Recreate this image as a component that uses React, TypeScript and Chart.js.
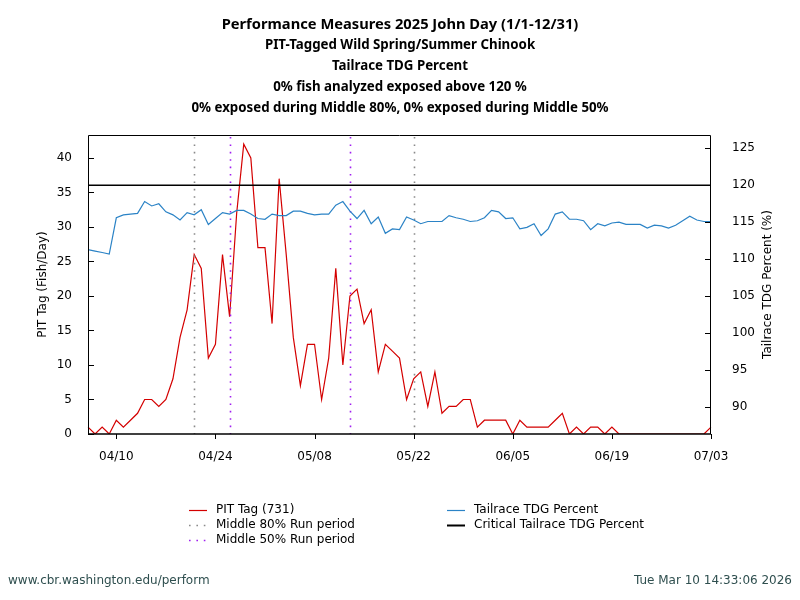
import React, { useEffect, useRef } from "react";
import { Chart, registerables } from "chart.js";

Chart.register(...registerables);

const TITLE_LINES = [
  "Performance Measures 2025 John Day (1/1-12/31)",
  "PIT-Tagged Wild Spring/Summer Chinook",
  "Tailrace TDG Percent",
  "0% fish analyzed exposed above 120 %",
  "0% exposed during Middle 80%, 0% exposed during Middle 50%",
];

const DATES = [
  "04/06", "04/07", "04/08", "04/09", "04/10", "04/11", "04/12", "04/13", "04/14", "04/15",
  "04/16", "04/17", "04/18", "04/19", "04/20", "04/21", "04/22", "04/23", "04/24", "04/25",
  "04/26", "04/27", "04/28", "04/29", "04/30",
  "05/01", "05/02", "05/03", "05/04", "05/05", "05/06", "05/07", "05/08", "05/09", "05/10",
  "05/11", "05/12", "05/13", "05/14", "05/15", "05/16", "05/17", "05/18", "05/19", "05/20",
  "05/21", "05/22", "05/23", "05/24", "05/25", "05/26", "05/27", "05/28", "05/29", "05/30",
  "05/31",
  "06/01", "06/02", "06/03", "06/04", "06/05", "06/06", "06/07", "06/08", "06/09", "06/10",
  "06/11", "06/12", "06/13", "06/14", "06/15", "06/16", "06/17", "06/18", "06/19", "06/20",
  "06/21", "06/22", "06/23", "06/24", "06/25", "06/26", "06/27", "06/28", "06/29", "06/30",
  "07/01", "07/02", "07/03",
];

const PIT_TAG = [
  1, 0, 1, 0, 2, 1, 2, 3, 5, 5, 4, 5, 8, 14, 18,
  26, 24, 11, 13, 26, 17, 32, 42, 40, 27, 27, 16, 37, 26, 14, 7,
  13, 13, 5, 11, 24, 10, 20, 21, 16, 18, 9, 13, 12, 11,
  5, 8, 9, 4, 9, 3, 4, 4, 5, 5, 1, 2, 2, 2, 2,
  0, 2, 1, 1, 1, 1, 2, 3, 0, 1, 0, 1, 1, 0, 1, 0,
  0, 0, 0, 0, 0, 0, 0, 0, 0, 0, 0, 0, 1,
];

const TAILRACE_TDG = [
  111.3, 111.1, 110.9, 110.7, 115.6, 116.0, 116.1, 116.2, 117.8, 117.2, 117.5, 116.4, 116.0,
  115.3, 116.3, 116.0, 116.7, 114.7, 115.5, 116.3, 116.1, 116.6, 116.6,
  116.1, 115.5, 115.4, 116.1, 115.9, 115.9, 116.5, 116.5, 116.2, 116.0, 116.1, 116.1, 117.3,
  117.8, 116.5, 115.5, 116.6, 114.8, 115.7, 113.5, 114.1, 114.0,
  115.7, 115.3, 114.8, 115.1, 115.1, 115.1, 115.9, 115.6, 115.4, 115.1, 115.2, 115.6, 116.6,
  116.4, 115.5, 115.6, 114.1, 114.3, 114.8, 113.2, 114.1,
  116.1, 116.4, 115.4, 115.4, 115.2, 114.0, 114.8, 114.5, 114.9, 115.0, 114.7, 114.7, 114.7,
  114.2, 114.6, 114.5, 114.2, 114.6, 115.2, 115.8, 115.3, 115.1, 115.1,
];

const X_TICK_LABELS = ["04/10", "04/24", "05/08", "05/22", "06/05", "06/19", "07/03"];
const LEFT_TICKS = [0, 5, 10, 15, 20, 25, 30, 35, 40];
const RIGHT_TICKS = [90, 95, 100, 105, 110, 115, 120, 125];
const MIDDLE_80 = ["04/21", "05/22"];
const MIDDLE_50 = ["04/26", "05/13"];
const CRITICAL_TDG = 120;
const PIT_TOTAL = 731;

const LEFT_AXIS_TITLE = "PIT Tag (Fish/Day)";
const RIGHT_AXIS_TITLE = "Tailrace TDG Percent (%)";
const FOOTER_LEFT = "www.cbr.washington.edu/perform";
const FOOTER_RIGHT = "Tue Mar 10 14:33:06 2026";

const RED = "#d40000";
const BLUE = "#2b83c6";
const GRAY = "#8a8a8a";
const PURPLE = "#a020f0";
const FONT = '"DejaVu Sans", "Liberation Sans", sans-serif';
const TITLE_FONT = '"Noto Sans", "Open Sans", sans-serif';

export default function App() {
  const ref = useRef<HTMLCanvasElement>(null);

  useEffect(() => {
    const canvas = ref.current;
    if (!canvas) return;

    const drawDotted = (ctx: CanvasRenderingContext2D, x1: number, y1: number, x2: number, y2: number, color: string) => {
      ctx.save();
      ctx.strokeStyle = color;
      ctx.lineWidth = 1.6;
      ctx.setLineDash([1.6, 5.8]);
      ctx.beginPath();
      ctx.moveTo(x1, y1);
      ctx.lineTo(x2, y2);
      ctx.stroke();
      ctx.restore();
    };

    const overlay = {
      id: "overlay",
      afterDatasetDraw(chart: any, args: any) {
        if (args.index !== 1) return;
        const { ctx, chartArea } = chart;
        const xs = chart.scales.x;
        ctx.save();
        ctx.beginPath();
        ctx.rect(chartArea.left, chartArea.top, chartArea.right - chartArea.left, chartArea.bottom - chartArea.top);
        ctx.clip();
        MIDDLE_80.forEach((d) => {
          const px = Math.round(xs.getPixelForValue(DATES.indexOf(d))) + 0.5;
          drawDotted(ctx, px, chartArea.top + 2, px, chartArea.bottom, GRAY);
        });
        MIDDLE_50.forEach((d) => {
          const px = Math.round(xs.getPixelForValue(DATES.indexOf(d))) + 0.5;
          drawDotted(ctx, px, chartArea.top + 2, px, chartArea.bottom, PURPLE);
        });
        ctx.restore();
      },
      afterDatasetsDraw(chart: any) {
        const { ctx, chartArea } = chart;
        const { left, right, top, bottom } = chartArea;
        const xs = chart.scales.x;
        const ys = chart.scales.y;
        const y2s = chart.scales.y2;
        ctx.save();
        // critical line
        const cy = y2s.getPixelForValue(CRITICAL_TDG);
        ctx.strokeStyle = "#000";
        ctx.lineWidth = 1.6;
        ctx.beginPath();
        ctx.moveTo(left, cy);
        ctx.lineTo(right, cy);
        ctx.stroke();
        // frame
        ctx.lineWidth = 1;
        ctx.beginPath();
        ctx.moveTo(left + 0.5, bottom);
        ctx.lineTo(left + 0.5, top + 0.5);
        ctx.lineTo(right - 0.5, top + 0.5);
        ctx.lineTo(right - 0.5, bottom);
        ctx.stroke();
        ctx.lineWidth = 1.6;
        ctx.beginPath();
        ctx.moveTo(left, bottom);
        ctx.lineTo(right, bottom);
        ctx.stroke();
        // ticks
        ctx.lineWidth = 1;
        ctx.beginPath();
        LEFT_TICKS.forEach((v) => {
          const py = Math.round(ys.getPixelForValue(v)) + 0.5;
          ctx.moveTo(left, py);
          ctx.lineTo(left + 6, py);
        });
        RIGHT_TICKS.forEach((v) => {
          const py = Math.round(y2s.getPixelForValue(v)) + 0.5;
          ctx.moveTo(right, py);
          ctx.lineTo(right - 6, py);
        });
        X_TICK_LABELS.forEach((d) => {
          const px = Math.round(xs.getPixelForValue(DATES.indexOf(d))) + 0.5;
          ctx.moveTo(px, bottom);
          ctx.lineTo(px, bottom + 5);
        });
        ctx.stroke();
        ctx.restore();
      },
      afterDraw(chart: any) {
        const { ctx, chartArea } = chart;
        ctx.save();
        // title
        ctx.fillStyle = "#000";
        ctx.textAlign = "center";
        ctx.textBaseline = "alphabetic";
        const baselines = [29, 49, 70, 91, 112];
        TITLE_LINES.forEach((t, i) => {
          ctx.font = i === 0 ? `bold 14.7px ${TITLE_FONT}` : `bold 13.3px ${TITLE_FONT}`;
          ctx.fillText(t, 400, baselines[i]);
        });

        // right axis title (reads bottom to top)
        ctx.save();
        ctx.font = `12px ${FONT}`;
        ctx.textAlign = "center";
        ctx.textBaseline = "middle";
        ctx.translate(768, (chartArea.top + chartArea.bottom) / 2);
        ctx.rotate(-Math.PI / 2);
        ctx.fillText(RIGHT_AXIS_TITLE, 0, 0);
        ctx.restore();

        // legend
        ctx.font = `12px ${FONT}`;
        ctx.textAlign = "left";
        ctx.textBaseline = "middle";
        const rows = [510, 525, 540];
        const c1 = 189, c2 = 447, sw = 18, tx1 = 216, tx2 = 474;
        const solid = (x: number, y: number, color: string, w: number) => {
          ctx.save();
          ctx.strokeStyle = color;
          ctx.lineWidth = w;
          ctx.beginPath();
          ctx.moveTo(x, y + 0.5);
          ctx.lineTo(x + sw, y + 0.5);
          ctx.stroke();
          ctx.restore();
        };
        solid(c1, rows[0], RED, 1.2);
        ctx.fillStyle = "#000";
        ctx.fillText(`PIT Tag (${PIT_TOTAL})`, tx1, rows[0]);
        drawDotted(ctx, c1, rows[1] + 0.5, c1 + sw + 1, rows[1] + 0.5, GRAY);
        ctx.fillText("Middle 80% Run period", tx1, rows[1]);
        drawDotted(ctx, c1, rows[2] + 0.5, c1 + sw + 1, rows[2] + 0.5, PURPLE);
        ctx.fillText("Middle 50% Run period", tx1, rows[2]);
        solid(c2, rows[0], BLUE, 1.2);
        ctx.fillText("Tailrace TDG Percent", tx2, rows[0]);
        solid(c2, rows[1], "#000", 2);
        ctx.fillText("Critical Tailrace TDG Percent", tx2, rows[1]);

        // footer
        ctx.fillStyle = "#2f4f4f";
        ctx.font = `12px ${FONT}`;
        ctx.textBaseline = "middle";
        ctx.textAlign = "left";
        ctx.fillText(FOOTER_LEFT, 8, 581);
        ctx.textAlign = "right";
        ctx.fillText(FOOTER_RIGHT, 792, 581);
        ctx.restore();
      },
    };

    const tickFont = { family: FONT, size: 12 };

    const chart = new Chart(canvas, {
      type: "line",
      data: {
        labels: DATES,
        datasets: [
          {
            label: "Tailrace TDG Percent",
            data: TAILRACE_TDG,
            yAxisID: "y2",
            borderColor: BLUE,
            borderWidth: 1.2,
            pointRadius: 0,
            tension: 0,
            fill: false,
          },
          {
            label: `PIT Tag (${PIT_TOTAL})`,
            data: PIT_TAG,
            yAxisID: "y",
            borderColor: RED,
            borderWidth: 1.2,
            pointRadius: 0,
            tension: 0,
            fill: false,
          },
        ],
      },
      options: {
        animation: false,
        responsive: false,
        devicePixelRatio: 1,
        layout: { padding: { top: 135, left: 0, right: 0, bottom: 0 } },
        plugins: {
          legend: { display: false },
          title: { display: false },
          tooltip: { enabled: false },
        },
        scales: {
          x: {
            type: "category",
            offset: false,
            grid: { display: false },
            border: { display: false },
            ticks: {
              autoSkip: false,
              maxRotation: 0,
              minRotation: 0,
              padding: 8,
              color: "#000",
              font: tickFont,
              callback: (_v: any, i: number) => (X_TICK_LABELS.includes(DATES[i]) ? DATES[i] : ""),
            },
            afterFit: (s: any) => {
              s.height = 166;
            },
          },
          y: {
            type: "linear",
            position: "left",
            min: 0,
            max: 43.33,
            grid: { display: false },
            border: { display: false },
            afterBuildTicks: (s: any) => {
              s.ticks = LEFT_TICKS.map((v) => ({ value: v }));
            },
            ticks: { padding: 8, color: "#000", font: tickFont },
            title: {
              display: true,
              text: LEFT_AXIS_TITLE,
              color: "#000",
              font: tickFont,
              padding: { top: 36, bottom: 0 },
            },
            afterFit: (s: any) => {
              s.width = 88;
            },
          },
          y2: {
            type: "linear",
            position: "right",
            min: 86.35,
            max: 126.8,
            grid: { display: false },
            border: { display: false },
            afterBuildTicks: (s: any) => {
              s.ticks = RIGHT_TICKS.map((v) => ({ value: v }));
            },
            ticks: { padding: 13, color: "#000", font: tickFont },
            title: { display: false, text: RIGHT_AXIS_TITLE },
            afterFit: (s: any) => {
              s.width = 89;
            },
          },
        },
      } as any,
      plugins: [overlay],
    });

    return () => chart.destroy();
  }, []);

  return (
    <div style={{ position: "absolute", left: 0, top: 0, width: 800, height: 600, background: "#fff" }}>
      <canvas ref={ref} width={800} height={600} style={{ width: 800, height: 600, display: "block" }} />
    </div>
  );
}
